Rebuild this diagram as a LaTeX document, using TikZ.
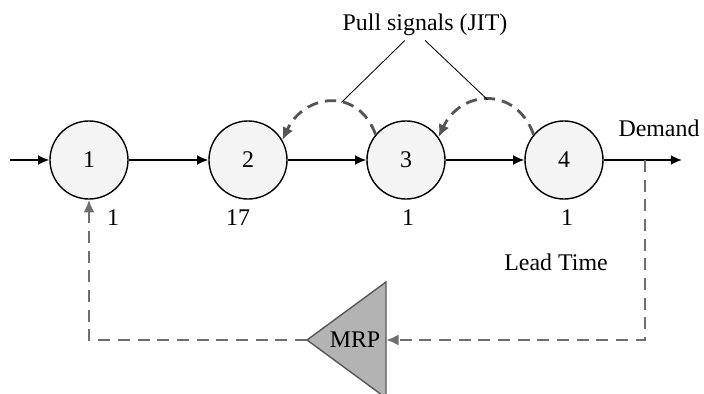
\documentclass[tikz,border=0pt]{standalone}
\usepackage{fontspec}
\setmainfont{Liberation Serif}
\usetikzlibrary{arrows.meta}
\definecolor{stagefill}{HTML}{F4F4F4}
\definecolor{sigcol}{HTML}{555555}
\definecolor{fbcol}{HTML}{6E6E6E}
\definecolor{mrpfill}{HTML}{B3B3B3}
\tikzset{
  stage/.style={circle,draw,line width=1pt,fill=stagefill,minimum size=1.95cm,inner sep=0pt,font=\fontsize{17}{20}\selectfont},
  lbl/.style={font=\fontsize{17}{20}\selectfont,inner sep=1pt},
  flow/.style={line width=1pt,-{Latex[length=8pt,width=7pt]}},
  pullarr/.style={sigcol,line width=2pt,dash pattern=on 8pt off 5pt,-{Latex[length=9pt,width=8pt]}},
  fbline/.style={fbcol,line width=2.1pt,dash pattern=on 8.5pt off 5.5pt},
}
\begin{document}
\begin{tikzpicture}[x=0.025cm,y=0.025cm]
\useasboundingbox (0,0) rectangle (704,394);
% stages
\node[stage] (s1) at (89,234) {1};
\node[stage] (s2) at (248,234) {2};
\node[stage] (s3) at (406,234) {3};
\node[stage] (s4) at (564,234) {4};
\coordinate (src) at (10,234);
\coordinate (dst) at (682,234);
\coordinate (tap) at (645,234);
\draw[flow] (src) -- (s1);
\draw[flow] (s1) -- (s2);
\draw[flow] (s2) -- (s3);
\draw[flow] (s3) -- (s4);
\draw[flow] (s4) -- (dst);
% labels
\node[lbl] (dem) at (659,266) {Demand};
\node[lbl] (lt1) at (113,176) {1};
\node[lbl] (lt2) at (238,176) {17};
\node[lbl] (lt3) at (408,176) {1};
\node[lbl] (lt4) at (567,176) {1};
\node[lbl] (lead) at (556,132) {Lead Time};
\node[lbl] (pull) at (425,369) {Pull signals (JIT)};
% pull signals
\draw[pullarr] (s3.140) to[out=110,in=65,looseness=1.4] coordinate[pos=0.4] (pk1) (s2.30);
\draw[pullarr] (s4.140) to[out=110,in=65,looseness=1.4] coordinate[pos=0.5] (pk2) (s3.35);
\draw[line width=0.6pt] ([xshift=-0.5cm,yshift=-2pt]pull.south) -- (pk1);
\draw[line width=0.6pt] ([yshift=-2pt]pull.south) -- (pk2);
% MRP
\coordinate (mrpR) at (386,54);
\coordinate (mrpL) at (307,54);
\filldraw[fill=mrpfill,draw=fbcol!80!black,line width=1pt] (386,112) -- (386,-4) -- (mrpL) -- cycle;
\node[lbl] (mrp) at (355,54) {MRP};
\draw[fbline,-{Latex[length=9pt,width=8pt]}] (tap) |- (mrpR);
\draw[fbline,-{Latex[length=9pt,width=8pt]}] (mrpL) -| (s1.south);
\end{tikzpicture}
\end{document}
